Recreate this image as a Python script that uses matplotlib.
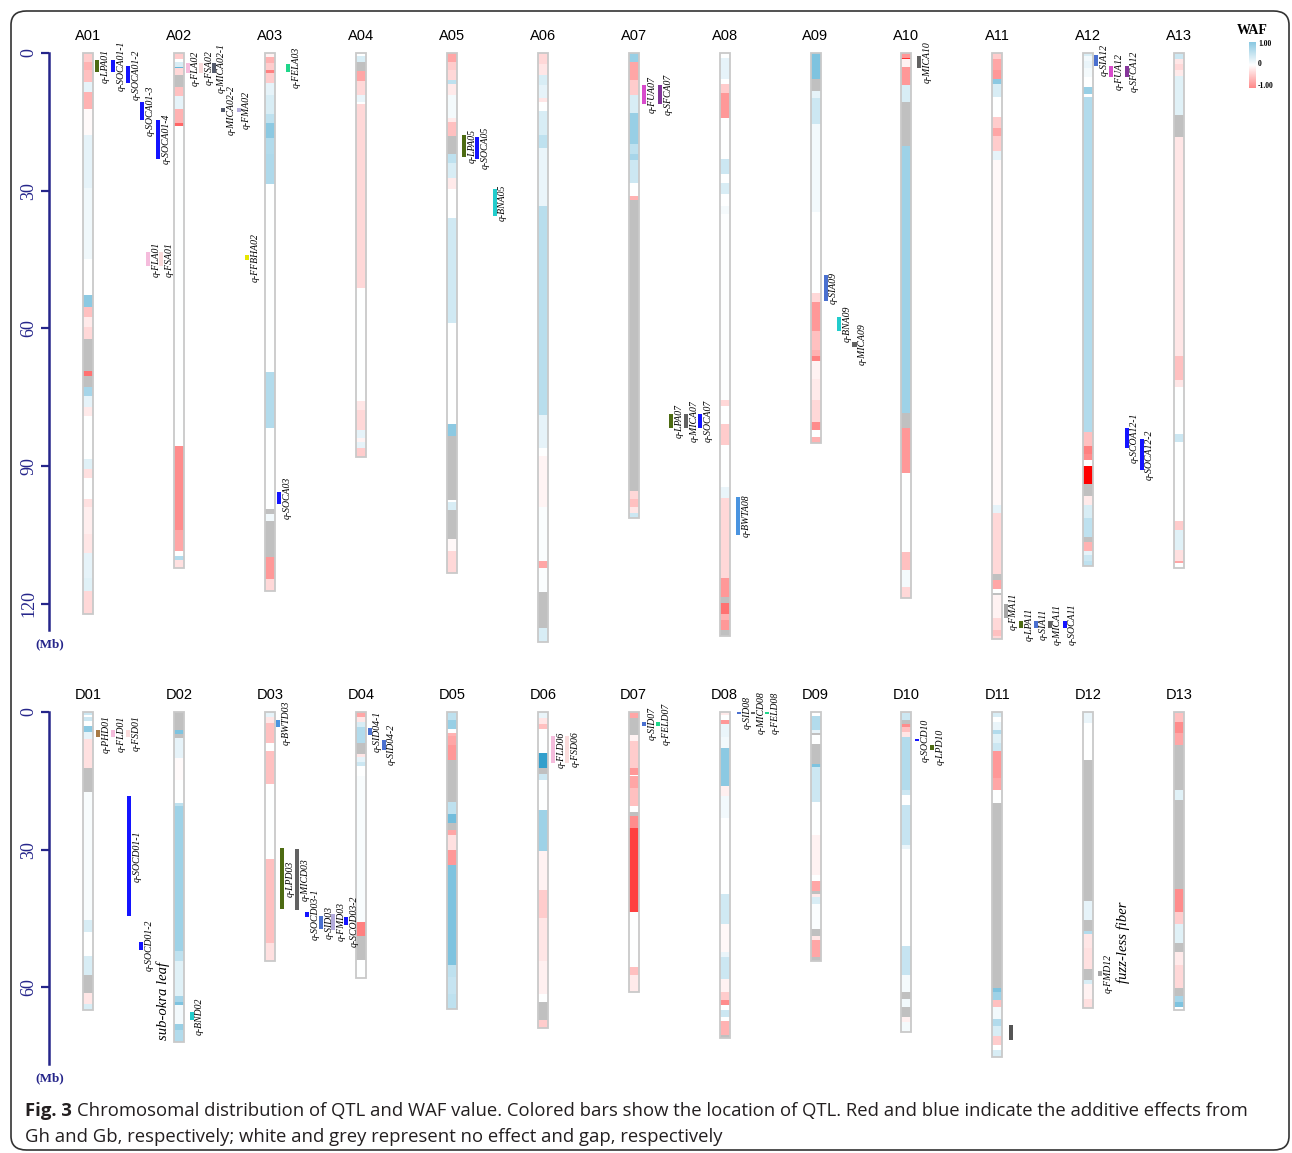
import matplotlib
matplotlib.use("Agg")
import matplotlib.pyplot as plt
import numpy as np
from matplotlib.colors import LinearSegmentedColormap, Normalize
from matplotlib.patches import FancyBboxPatch

#
# WAF segments per chromosome: (segment end in Mb, WAF value), None = gap
#
A01 = [(1.9,-.2),(3.7,-.3),(6.3,-.25),(8.4,.1),(12.1,-.3),(17.9,-.02),(29.5,.1),(44.8,.06),(52.8,0),(55.4,.45),
       (57.6,-.25),(59.8,-.08),(62.3,-.15),(69.2,None),(70.3,-.55),(72.7,None),(74.7,.35),(77.2,.1),(79.1,-.08),
       (88.5,0),(90.7,.12),(92.5,-.12),(97.2,0),(99.0,-.12),(104.9,-.07),(108.9,-.1),(114.4,.1),(117.3,.12),(122.3,-.15)]
A02 = [(1.4,-.2),(1.9,0),(3.0,.15),(3.3,.6),(4.8,-.15),(7.4,None),(9.4,-.25),(12.1,.1),(15.2,-.3),(15.8,-.6),
       (85.6,0),(103.9,-.45),(108.4,-.35),(109.6,0),(110.5,.3),(112.2,-.12)]
A03 = [(0.9,-.05),(2.1,-.3),(3.6,-.2),(4.4,-.5),(6.6,-.2),(9.2,.1),(13.2,.15),(15.2,.25),(18.6,.45),(21.9,.3),
       (28.5,.32),(69.4,0),(81.8,.3),(99.3,0),(100.5,None),(102.0,.05),(109.8,None),(114.5,-.4),(117.2,-.15)]
A04 = [(0.6,0),(1.9,.15),(4.0,None),(6.2,-.35),(9.2,-.15),(10.7,.08),(11.1,0),(51.3,-.15),(75.8,0),(77.8,-.1),
       (82.1,-.15),(83.8,.1),(84.7,-.05),(86.0,.1),(88.1,-.2)]
A05 = [(1.9,-.35),(3.8,-.2),(5.9,-.15),(6.8,.25),(9.2,-.08),(14.2,.04),(15.1,-.08),(18.1,-.25),(22.1,None),(23.9,.25),
       (27.3,.15),(29.7,-.08),(35.9,0),(58.8,.18),(80.8,0),(83.4,.45),(97.4,None),(97.8,0),(99.6,.15),(105.8,None),
       (108.4,-.03),(113.2,-.15)]
A06 = [(2.3,-.15),(4.7,-.1),(7.0,.15),(9.9,.1),(10.7,-.1),(12.6,0),(17.8,.15),(20.8,.25),(33.4,.08),(78.9,.28),
       (86.0,.1),(87.7,0),(98.9,-.04),(110.6,.02),(112.3,-.35),(117.5,.02),(125.2,None),(128.3,.15)]
A07 = [(1.9,.4),(5.9,-.35),(9.2,-.2),(13.1,.15),(19.8,.4),(22.1,.25),(23.4,.35),(28.3,.2),(31.2,0),(32.1,-.3),
       (95.5,None),(97.2,-.15),(98.9,-.25),(100.2,-.1),(101.3,.2)]
A08 = [(1.0,0),(5.6,.1),(6.8,0),(8.8,-.2),(14.2,-.4),(23.2,0),(26.3,.2),(28.3,0),(30.8,.15),(33.4,0),(35.1,.04),
       (75.6,.01),(76.9,-.15),(80.8,0),(85.5,-.2),(94.6,0),(97.0,.08),(114.4,-.15),(118.6,-.4),(119.9,None),
       (122.2,-.55),(123.5,-.3),(125.7,-.4),(127.0,None)]
A09 = [(5.7,.5),(8.3,None),(9.8,.1),(15.4,.2),(34.6,.05),(52.3,0),(54.2,-.15),(60.5,-.4),(64.8,-.25),(66.1,-.3),
       (67.2,-.5),(71.1,-.05),(75.5,-.08),(80.5,-.15),(82.1,-.45),(83.6,0),(84.9,-.3)]
A10 = [(1.0,-.4),(1.4,-.8),(3.0,-.05),(7.0,-.4),(10.7,.15),(20.2,None),(78.4,.38),(81.8,None),(91.6,-.4),(108.8,0),
       (112.6,-.25),(116.4,.04),(118.8,-.15)]
A11 = [(1.4,-.2),(3.6,-.35),(5.7,-.4),(6.8,.45),(9.6,.15),(13.9,0),(16.3,-.2),(18.0,-.35),(21.3,-.2),(23.3,.1),
       (98.5,-.03),(100.2,.1),(113.5,-.15),(114.8,None),(116.8,-.35),(117.7,0),(118.1,None),(123.1,-.05),
       (125.6,-.15),(127.0,-.25),(127.7,-.15)]
A12 = [(0.6,.15),(1.8,.05),(3.3,.08),(5.3,.04),(7.5,0),(9.0,.4),(9.6,0),(82.5,.3),(85.6,-.25),(87.3,-.5),(88.6,-.45),
       (89.9,0),(93.8,-1.0),(96.5,None),(98.5,-.08),(101.2,.15),(105.5,.25),(106.5,None),(108.4,-.3),(109.4,.1),
       (110.6,.2),(111.8,.25)]
A13 = [(1.2,.2),(2.5,-.1),(3.7,-.15),(5.1,-.08),(13.5,.12),(18.4,None),(66.1,-.1),(71.2,-.25),(72.7,-.1),(83.1,0),
       (84.8,.2),(102.0,0),(104.0,-.2),(108.2,.12),(110.6,-.12),(111.2,-.35),(112.2,0)]

D01 = [(0.7,.2),(1.0,0),(1.9,.2),(3.0,0),(4.3,.45),(5.9,.1),(12.2,-.12),(17.5,None),(45.3,.03),(47.9,.15),(53.1,0),
       (57.4,.15),(61.2,None),(63.6,-.1),(65.0,.15)]
D02 = [(3.9,None),(4.8,.5),(5.7,None),(10.0,.1),(14.8,-.02),(19.8,0),(20.5,.25),(52.0,.38),(54.2,.25),(61.8,.12),
       (63.2,.35),(63.9,.5),(67.9,.05),(69.3,.4),(71.9,.3)]
D03 = [(1.0,.1),(2.5,-.1),(6.8,-.25),(8.6,0),(15.6,-.25),(32.1,0),(50.3,-.25),(54.2,-.12)]
D04 = [(1.0,-.35),(2.1,-.1),(3.2,.15),(6.8,.3),(9.1,None),(9.8,-.1),(11.0,.1),(11.7,.2),(13.9,0),(45.7,.03),
       (48.9,-.5),(54.0,None),(57.9,0)]
D05 = [(1.7,.25),(3.8,.4),(4.5,0),(5.2,-.3),(7.2,-.35),(10.4,-.4),(19.5,None),(22.2,.25),(24.2,.55),(25.6,None),
       (26.7,-.35),(30.1,-.12),(33.3,-.4),(55.1,.5),(57.8,.25),(61.4,.22),(64.6,.25)]
D06 = [(1.4,.08),(2.7,-.1),(3.8,-.25),(9.0,0),(12.2,.8),(13.5,None),(14.8,.2),(21.3,0),(30.3,.38),(38.8,-.05),
       (44.8,-.2),(54.2,-.1),(61.4,-.06),(63.2,0),(67.2,None),(68.8,-.2)]
D07 = [(1.2,-.35),(5.0,None),(6.4,-.05),(12.2,-.2),(13.7,-.4),(14.0,0),(16.6,-.35),(20.5,-.25),(21.8,0),(22.7,None),
       (25.2,-.45),(43.5,-.75),(55.6,0),(57.4,-.25),(61.0,-.08)]
D08 = [(0.7,-.08),(1.7,0),(2.6,-.4),(5.4,.08),(7.9,.05),(16.2,.45),(18.4,-.06),(23.1,.05),(39.7,0),(46.2,.18),
       (52.3,-.03),(53.4,.08),(58.1,.2),(61.0,-.05),(62.8,-.2),(63.9,-.45),(65.0,0),(66.5,.2),(67.4,0),(70.3,-.3),
       (71.0,None)]
D09 = [(0.9,0),(3.9,.3),(4.5,.1),(5.0,None),(6.9,0),(11.3,None),(11.9,.5),(19.7,.2),(26.7,0),(35.6,-.05),(36.8,0),
       (39.0,-.35),(39.6,None),(40.4,-.08),(41.9,.15),(47.3,.02),(48.9,None),(49.6,-.1),(53.4,-.35),(54.2,None)]
D10 = [(0.3,-.2),(1.7,.2),(2.6,None),(3.2,-.45),(4.3,-.25),(5.5,-.1),(16.9,.3),(18.0,.2),(20.2,0),(28.9,.22),
       (29.9,.08),(50.9,0),(57.3,.22),(61.0,.04),(62.6,None),(64.3,.05),(66.5,None),(67.5,-.06),(69.8,.04)]
D11 = [(1.0,.15),(2.1,0),(3.9,.08),(4.8,.3),(6.7,.12),(8.5,.2),(14.4,-.4),(17.1,-.35),(19.8,0),(60.2,None),
       (60.9,.5),(62.8,.38),(64.3,-.25),(66.8,.05),(68.4,.3),(70.6,.15),(72.5,-.2),(73.7,0),(75.1,.15)]
D12 = [(2.5,.08),(10.4,0),(41.1,None),(45.3,.1),(47.8,None),(48.4,.3),(51.5,-.1),(56.1,-.12),(58.3,None),(59.2,.15),
       (62.5,-.05),(64.5,-.12)]
D13 = [(0.3,.3),(2.1,-.25),(4.5,-.45),(7.2,-.35),(16.9,None),(19.2,.12),(38.6,None),(43.5,-.45),(46.2,-.2),
       (50.3,.12),(52.2,None),(55.1,-.08),(60.2,-.15),(61.9,None),(63.2,.35),(64.3,.5),(65.0,0)]

names_A = ["A%02d" % i for i in range(1, 14)]
names_D = ["D%02d" % i for i in range(1, 14)]
chroms_A = [A01, A02, A03, A04, A05, A06, A07, A08, A09, A10, A11, A12, A13]
chroms_D = [D01, D02, D03, D04, D05, D06, D07, D08, D09, D10, D11, D12, D13]

#
# QTL: chromosome, label, start, end (Mb)
#
qtl_chrom = ["A01","A01","A01","A01","A01","A01","A01","A02","A02","A02","A02","A02","A02","A03","A03",
             "A05","A05","A05","A07","A07","A07","A07","A07","A08","A09","A09","A09","A10",
             "A11","A11","A11","A11","A11","A12","A12","A12","A12","A12",
             "D01","D01","D01","D01","D01","D02","D03","D03","D03","D03","D03","D03","D03","D04","D04",
             "D06","D06","D07","D07","D08","D08","D08","D10","D10","D11","D12"]
qtl_name = ["q-LPA01","q-SOCA01-1","q-SOCA01-2","q-SOCA01-3","q-SOCA01-4","q-FLA01","q-FSA01",
            "q-FLA02","q-FSA02","q-MICA02-1","q-MICA02-2","q-FMA02","q-FFBHA02","q-FELA03","q-SOCA03",
            "q-LPA05","q-SOCA05","q-BNA05","q-FUA07","q-SFCA07","q-LPA07","q-MICA07","q-SOCA07","q-BWTA08",
            "q-SIA09","q-BNA09","q-MICA09","q-MICA10",
            "q-FMA11","q-LPA11","q-SIA11","q-MICA11","q-SOCA11","q-SIA12","q-FUA12","q-SFCA12","q-SCOA12-1","q-SOCA12-2",
            "q-PHD01","q-FLD01","q-FSD01","q-SOCD01-1","q-SOCD01-2","q-BND02","q-BWTD03","q-LPD03","q-MICD03",
            "q-SOCD03-1","q-SID03","q-FMD03","q-SCOD03-2","q-SID04-1","q-SID04-2",
            "q-FLD06","q-FSD06","q-SID07","q-FELD07","q-SID08","q-MICD08","q-FELD08","q-SOCD10","q-LPD10","","q-FMD12"]
qtl_start = [1.5,1.5,2.8,10.6,14.6,43.4,43.4, 2.1,2.1,2.1,11.9,11.9,44.0, 2.3,95.6,
             17.8,18.2,29.7, 7.0,7.0,78.6,78.6,78.6, 96.8, 48.4,57.5,62.9, 0.6,
             120.1,123.8,123.8,123.8,123.8, 0.4,2.8,2.8,81.7,84.2,
             3.9,3.9,3.9,18.4,50.0, 65.4, 1.7,29.6,29.8,43.5,44.4,44.0,44.6, 3.5,6.1,
             5.2,5.2, 2.2,2.2, 0.0,0.0,0.0, 5.8,7.2, 68.1, 56.4]
qtl_end = [4.2,4.1,6.6,14.5,23.0,46.5,46.5, 4.4,4.4,4.4,12.8,12.8,45.0, 4.1,98.3,
           22.7,23.0,35.5, 11.2,11.2,81.8,81.8,81.8, 105.0, 54.1,60.5,64.0, 3.2,
           123.1,125.3,125.3,125.3,125.3, 2.8,5.3,5.3,86.0,90.9,
           5.5,5.5,5.5,44.4,51.8, 67.2, 3.2,43.0,43.2,44.6,47.3,47.4,46.4, 5.0,8.2,
           11.1,11.1, 3.0,3.0, 0.4,0.4,0.4, 6.4,8.2, 71.5, 57.6]

# phenotype notes
note_chrom = ["D01", "D12"]
note_text = ["sub-okra leaf", "fuzz-less fiber"]
note_mid = [63.0, 50.2]

# --- style / layout ---------------------------------------------------------
BLUE, OLIVE, PINK, LPINK, SLATE = '#1414ff', '#4d6b12', '#f5bcdc', '#fbdcdc', '#545a6a'
GREY, LGREY, LAV, TEAL, GREEN = '#626262', '#a6a6a6', '#b4acdc', '#22cccc', '#1fd68a'
MAG, PURP, MBLUE, RBLUE = '#d84ccc', '#85359a', '#4a94e0', '#4a70d0'
qtl_color = [OLIVE,BLUE,BLUE,BLUE,BLUE,PINK,LPINK, PINK,LPINK,SLATE,SLATE,LAV,'#e6e600', GREEN,BLUE,
             OLIVE,BLUE,TEAL, MAG,PURP,OLIVE,GREY,BLUE, MBLUE, RBLUE,TEAL,GREY, GREY,
             LGREY,OLIVE,RBLUE,GREY,BLUE, RBLUE,MAG,PURP,BLUE,BLUE,
             '#a87a45',PINK,LPINK,BLUE,BLUE, TEAL, MBLUE,OLIVE,GREY,BLUE,RBLUE,LAV,BLUE, RBLUE,RBLUE,
             PINK,LPINK, RBLUE,GREEN, RBLUE,GREY,GREEN, BLUE,OLIVE, '#555555', LGREY]
# horizontal offset of each QTL bar from its chromosome centre (px)
qtl_dx = [8.4,24.7,39.4,53.4,69.4,59.4,72.7, 8.3,21.7,34.3,43.7,59.3,67.7, 18.3,9.3,
          12.3,25.0,42.6, 10.0,26.0,37.4,52.7,66.7, 13.7, 10.0,23.3,39.0, 12.3,
          8.3,24.0,38.3,52.3,67.3, 7.7,22.7,38.4,38.4,53.4,
          9.4,24.4,39.4,41.0,52.4, 12.3, 7.7,11.7,27.3,36.7,50.7,62.7,75.7, 8.6,22.6,
          10.6,24.6, 10.0,24.4, 14.3,28.3,42.7, 10.7,25.7, 13.3, 11.7]
note_dx = [74.7, 35.0]

W, H = 1292, 1153
COL0, COLW = 88.3, 90.9      # px of first chromosome centre, px between chromosomes
PXMB = 4.59                  # px per Mb
CW, QW = 10 / COLW, 4 / COLW
NAVY = '#25258a'
GAP = '#c0c0c0'
SERIF = 'Liberation Serif'

waf_cmap = LinearSegmentedColormap.from_list('waf', [(0, '#ff0000'), (0.5, '#ffffff'), (1, '#0088bf')])
norm = Normalize(-1, 1)

fig = plt.figure(figsize=(W / 100, H / 100), dpi=100)


def panel(top_px, bot_px, zero_px, axis_len, ticks, names, chroms):
    ax = fig.add_axes([0, 1 - bot_px / H, 1, (bot_px - top_px) / H])
    ax.set_xlim(-COL0 / COLW, (W - COL0) / COLW)
    ax.set_ylim((bot_px - zero_px) / PXMB, (top_px - zero_px) / PXMB)
    ax.patch.set_visible(False)
    for sp in ['top', 'right', 'bottom']:
        ax.spines[sp].set_visible(False)
    ax.spines['left'].set_position(('data', (48.5 - COL0) / COLW))
    ax.spines['left'].set_bounds(0, axis_len)
    ax.spines['left'].set_color(NAVY)
    ax.spines['left'].set_linewidth(1.8)
    ax.set_xticks([])
    ax.set_yticks(ticks)
    ax.tick_params(axis='y', colors=NAVY, length=6, width=1.6, labelsize=13, labelrotation=90, pad=2,
                   labelfontfamily=SERIF)
    for t in ax.get_yticklabels():
        t.set_va('center')
    ax.text((50 - COL0) / COLW, axis_len + 3.2, "(Mb)", color=NAVY, family=SERIF, fontsize=9.5,
            fontweight='bold', ha='center', va='center')

    for i, (name, segs) in enumerate(zip(names, chroms)):
        ends = [e for e, v in segs]
        starts = [0] + ends[:-1]
        cols = [GAP if v is None else waf_cmap(norm(v)) for e, v in segs]
        ax.bar([i] * len(segs), np.subtract(ends, starts), bottom=starts, width=CW, color=cols, linewidth=0)
        ax.bar(i, ends[-1], bottom=0, width=CW, fill=False, edgecolor='#c9c9c9', linewidth=1.3)
        ax.text(i, -3.8, name, ha='center', va='center', fontsize=10.5, family='Liberation Sans')
    return ax


axA = panel(20, 660, 53, 125.6, [0, 30, 60, 90, 120], names_A, chroms_A)
axD = panel(670, 1095, 712, 76.7, [0, 30, 60], names_D, chroms_D)

for c, lab, s, e, dx, col in zip(qtl_chrom, qtl_name, qtl_start, qtl_end, qtl_dx, qtl_color):
    ax = axA if c in names_A else axD
    names = names_A if c in names_A else names_D
    x = names.index(c) + dx / COLW
    ax.bar(x, max(e - s, 0.35), bottom=s, width=QW, color=col, linewidth=0)
    if lab:
        ax.text(x + QW / 2 + 1.5 / COLW, (s + e) / 2, lab, rotation=90, ha='left', va='center',
                fontsize=7, family=SERIF, style='italic')

for c, txt, y, dx in zip(note_chrom, note_text, note_mid, note_dx):
    axD.text(names_D.index(c) + dx / COLW, y, txt, rotation=90, ha='center', va='center',
             fontsize=10.5, family=SERIF, style='italic')

# WAF legend
cax = fig.add_axes([1249 / W, 1 - 88 / H, 7 / W, 46 / H])
cax.imshow(np.linspace(1, -1, 100)[:, None], aspect='auto', cmap=waf_cmap, norm=Normalize(-2.2, 2.2))
cax.axis('off')
fig.text(1252 / W, 1 - 31 / H, "WAF", family=SERIF, fontweight='bold', fontsize=10, ha='center', va='center')
for lab, py in [("1.00", 44), ("0", 64), ("-1.00", 86)]:
    fig.text(1258 / W, 1 - py / H, lab, family=SERIF, fontweight='bold', fontsize=5.5, ha='left', va='center')

# caption
CAPF, CAPS = 'Open Sans', 13.3
t1 = fig.text(25 / W, 1 - 1116 / H, "Fig. 3", family=CAPF, fontweight='bold', fontsize=CAPS, color='#231f20')
fig.canvas.draw()
bb = t1.get_window_extent()
fig.text((bb.x1 + 5) / W, 1 - 1116 / H,
         "Chromosomal distribution of QTL and WAF value. Colored bars show the location of QTL. "
         "Red and blue indicate the additive effects from", family=CAPF, fontsize=CAPS, color='#231f20')
fig.text(25 / W, 1 - 1142 / H, "Gh and Gb, respectively; white and grey represent no effect and gap, respectively",
         family=CAPF, fontsize=CAPS, color='#231f20')

box = FancyBboxPatch((11 / W, 1 - 1150 / H), (1289 - 11) / W, (1150 - 11) / H,
                     boxstyle="round,pad=0,rounding_size=0.012", transform=fig.transFigure,
                     fill=False, edgecolor='#333333', linewidth=1.2)
fig.patches.append(box)

fig.savefig("out.png", dpi=100)
